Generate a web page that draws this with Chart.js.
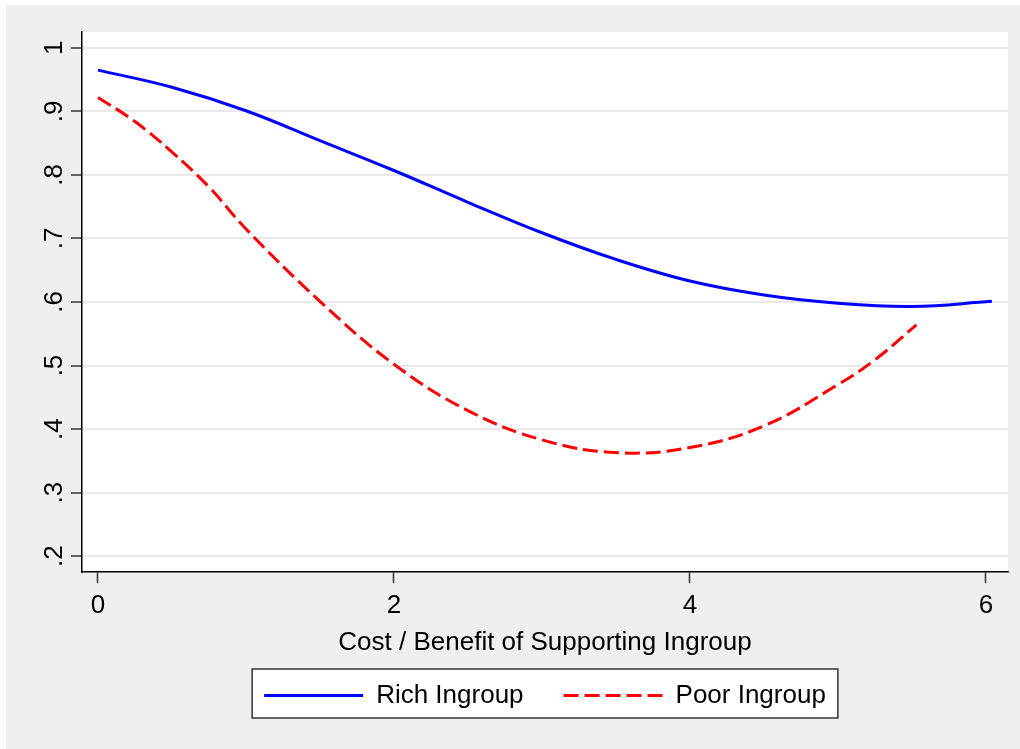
<!DOCTYPE html>
<html>
<head>
<meta charset="utf-8">
<script src="https://cdn.jsdelivr.net/npm/chart.js@4"></script>
<style>
  html, body { margin: 0; padding: 0; background: #fff; }
  body { width: 1020px; height: 749px; overflow: hidden; position: relative; }
  #wrap { position: absolute; left: 6px; top: 5px; width: 1014px; height: 744px; background: #efefef; }
</style>
</head>
<body>
<div id="wrap"><canvas id="chart"></canvas></div>
<script>
// values
const richX = [0, 0.5, 1, 1.5, 2, 2.5, 3, 3.5, 4, 4.5, 5, 5.5, 6.04];
const richY = [0.965, 0.938, 0.901, 0.854, 0.807, 0.757, 0.709, 0.667, 0.633, 0.611, 0.598, 0.593, 0.601];

const poorX = [0, 0.25, 0.5, 0.75, 1, 1.5, 2, 2.5, 3, 3.5, 4, 4.5, 5, 5.25, 5.53];
const poorY = [0.922, 0.884, 0.836, 0.781, 0.715, 0.601, 0.502, 0.429, 0.383, 0.363, 0.371, 0.405, 0.470, 0.509, 0.564];

const seriesNames = ['Rich Ingroup', 'Poor Ingroup'];
const xTickValues = [0, 2, 4, 6];
const yTickValues = [0.2, 0.3, 0.4, 0.5, 0.6, 0.7, 0.8, 0.9, 1];
const yTickLabels = ['.2', '.3', '.4', '.5', '.6', '.7', '.8', '.9', '1'];
const xTitle = 'Cost / Benefit of Supporting Ingroup';

const FONT = 'Liberation Sans, Arial, sans-serif';

const toPoints = (xs, ys) => xs.map((x, i) => ({ x: x, y: ys[i] }));

// white plot region + framed legend, Stata style
const backdrop = {
  id: 'backdrop',
  beforeDraw(chart) {
    const { ctx, chartArea: a, legend } = chart;
    ctx.save();
    ctx.fillStyle = '#ffffff';
    ctx.fillRect(a.left, a.top, a.right - a.left, a.bottom - a.top);
    const hb = legend.legendHitBoxes;
    if (hb && hb.length) {
      const last = hb[hb.length - 1];
      const x0 = hb[0].left - 12;
      const x1 = last.left + last.width + 12;
      const yc = hb[0].top + hb[0].height / 2;
      ctx.fillStyle = '#ffffff';
      ctx.fillRect(x0, yc - 26.5, x1 - x0, 49);
      ctx.strokeStyle = '#333';
      ctx.lineWidth = 1.5;
      ctx.strokeRect(x0, yc - 26.5, x1 - x0, 49);
    }
    ctx.restore();
  }
};

new Chart(document.getElementById('chart'), {
  type: 'line',
  data: {
    datasets: [
      {
        label: seriesNames[0],
        data: toPoints(richX, richY),
        borderColor: '#0000ff',
        backgroundColor: '#0000ff',
        borderWidth: 3,
        pointRadius: 0,
        tension: 0.4,
      },
      {
        label: seriesNames[1],
        data: toPoints(poorX, poorY),
        borderColor: '#ff0000',
        backgroundColor: '#ff0000',
        borderWidth: 3,
        borderDash: [15, 6],
        pointRadius: 0,
        tension: 0.4,
      },
    ],
  },
  options: {
    responsive: true,
    maintainAspectRatio: false,
    animation: false,
    layout: { padding: { left: 0, right: 12, top: 27, bottom: 30.5 } },
    plugins: {
      tooltip: { enabled: false },
      legend: {
        position: 'bottom',
        fullSize: false,
        labels: {
          usePointStyle: true,
          pointStyle: 'line',
          pointStyleWidth: 99,
          padding: 40,
          color: '#000',
          font: { family: FONT, size: 26 },
          // point-style items lose the line's dash and width, put them back
          generateLabels: (chart) => {
            const items = Chart.defaults.plugins.legend.labels.generateLabels(chart);
            items.forEach(it => {
              const ds = chart.data.datasets[it.datasetIndex];
              it.lineDash = ds.borderDash || [];
              it.lineWidth = ds.borderWidth;
              it.strokeStyle = ds.borderColor;
            });
            return items;
          },
        },
      },
    },
    scales: {
      x: {
        type: 'linear',
        min: -0.108,
        max: 6.149,
        afterBuildTicks: (axis) => { axis.ticks = xTickValues.map(v => ({ value: v })); },
        afterFit: (axis) => { axis.height = 70.5; },
        ticks: {
          includeBounds: false,
          padding: 7,
          color: '#000',
          font: { family: FONT, size: 26 },
          maxRotation: 0,
          callback: (v) => String(v),
        },
        grid: { drawOnChartArea: false, tickLength: 11, tickColor: '#333', tickWidth: 1.5 },
        border: { color: '#000', width: 1.5 },
        title: {
          display: true,
          text: xTitle,
          color: '#000',
          font: { family: FONT, size: 26, lineHeight: 1 },
          padding: { top: 0, bottom: -13 },
        },
      },
      y: {
        type: 'linear',
        min: 0.175,
        max: 1.025,
        afterBuildTicks: (axis) => { axis.ticks = yTickValues.map(v => ({ value: v })); },
        afterFit: (axis) => { axis.width = 76; },
        ticks: {
          includeBounds: false,
          padding: 5,
          color: '#000',
          font: { family: FONT, size: 26 },
          minRotation: 90,
          maxRotation: 90,
          crossAlign: 'center',
          callback: (v, i) => yTickLabels[i],
        },
        grid: { color: '#e8e8e8', lineWidth: 2, tickLength: 11, tickColor: '#333', tickWidth: 1.5 },
        border: { color: '#000', width: 1.5 },
      },
    },
  },
  plugins: [backdrop],
});
</script>
</body>
</html>
